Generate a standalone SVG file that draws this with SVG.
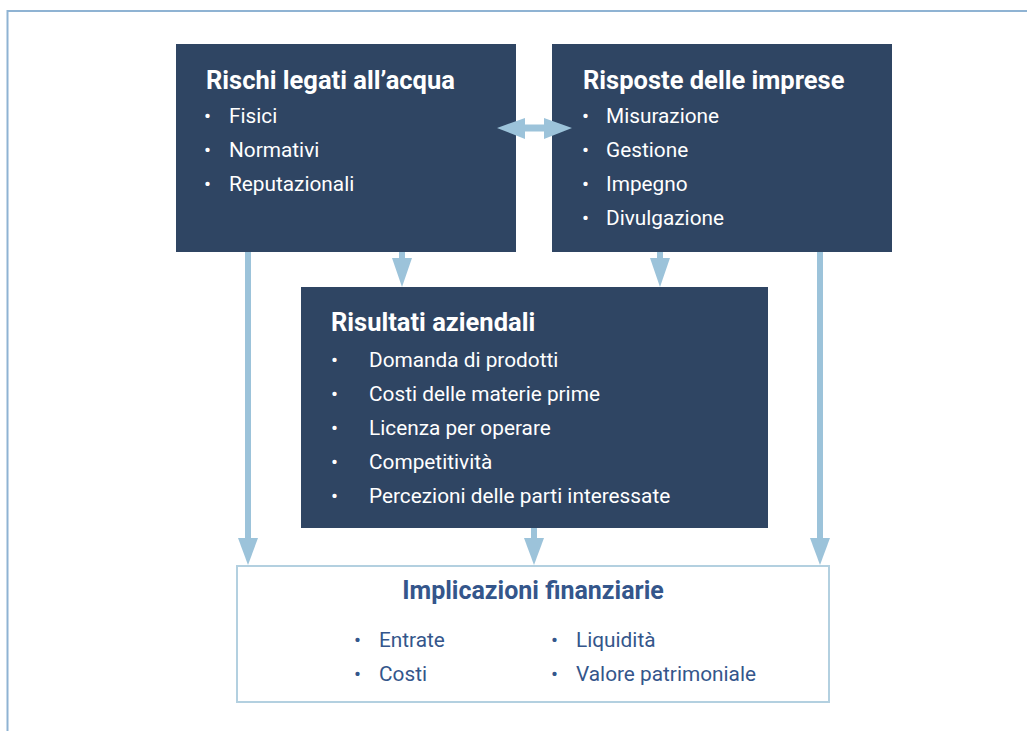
<svg xmlns="http://www.w3.org/2000/svg" width="1027" height="731" viewBox="0 0 1027 731">
<defs>
<style>
.dark{fill:#2f4563}
.title{font-family:Roboto,"Liberation Sans",sans-serif;font-weight:700;font-size:25.5px;fill:#ffffff}
.item{font-family:Roboto,"Liberation Sans",sans-serif;font-size:20.8px;fill:#ffffff}
.ftitle{font-family:Roboto,"Liberation Sans",sans-serif;font-weight:700;font-size:25px;fill:#34568b}
.fitem{font-family:Roboto,"Liberation Sans",sans-serif;font-size:20.8px;fill:#34568b}
.conn{stroke:#9cc3da;stroke-width:6;fill:none}
.head{fill:#9cc3da}
</style>
</defs>
<rect width="1027" height="731" fill="#ffffff"/>
<path d="M7.5 731 V11 H1027" fill="none" stroke="#8fb3d3" stroke-width="2"/>
<g id="rischi">
<rect class="dark" x="176" y="44" width="340" height="208"/>
<text class="title" x="206" y="89">Rischi legati all’acqua</text>
<text class="item" x="204" y="123">•</text><text class="item" x="229" y="123">Fisici</text>
<text class="item" x="204" y="157">•</text><text class="item" x="229" y="157">Normativi</text>
<text class="item" x="204" y="191">•</text><text class="item" x="229" y="191">Reputazionali</text>
</g>
<g id="risposte">
<rect class="dark" x="552" y="44" width="340" height="208"/>
<text class="title" x="583" y="89">Risposte delle imprese</text>
<text class="item" x="582" y="123">•</text><text class="item" x="606" y="123">Misurazione</text>
<text class="item" x="582" y="157">•</text><text class="item" x="606" y="157">Gestione</text>
<text class="item" x="582" y="191">•</text><text class="item" x="606" y="191">Impegno</text>
<text class="item" x="582" y="225">•</text><text class="item" x="606" y="225">Divulgazione</text>
</g>
<g id="risultati">
<rect class="dark" x="301" y="287" width="467" height="241"/>
<text class="title" x="331" y="331">Risultati aziendali</text>
<text class="item" x="331" y="367">•</text><text class="item" x="369" y="367">Domanda di prodotti</text>
<text class="item" x="331" y="401">•</text><text class="item" x="369" y="401">Costi delle materie prime</text>
<text class="item" x="331" y="435">•</text><text class="item" x="369" y="435">Licenza per operare</text>
<text class="item" x="331" y="469">•</text><text class="item" x="369" y="469">Competitività</text>
<text class="item" x="331" y="503">•</text><text class="item" x="369" y="503">Percezioni delle parti interessate</text>
</g>
<g id="implicazioni">
<rect x="237" y="566" width="592" height="136" fill="#ffffff" stroke="#b3d0e0" stroke-width="2"/>
<text class="ftitle" x="533" y="599" text-anchor="middle">Implicazioni finanziarie</text>
<text class="fitem" x="354" y="647">•</text><text class="fitem" x="379" y="647">Entrate</text>
<text class="fitem" x="354" y="681">•</text><text class="fitem" x="379" y="681">Costi</text>
<text class="fitem" x="551" y="647">•</text><text class="fitem" x="576" y="647">Liquidità</text>
<text class="fitem" x="551" y="681">•</text><text class="fitem" x="576" y="681">Valore patrimoniale</text>
</g>
<g id="connectors">
<line class="conn" x1="248" y1="252" x2="248" y2="540"/>
<polygon class="head" points="238,538 258,538 248,565"/>
<line class="conn" x1="820" y1="252" x2="820" y2="540"/>
<polygon class="head" points="810,538 830,538 820,565"/>
<line class="conn" x1="402" y1="252" x2="402" y2="260"/>
<polygon class="head" points="392,258 412,258 402,287"/>
<line class="conn" x1="660" y1="252" x2="660" y2="260"/>
<polygon class="head" points="650,258 670,258 660,287"/>
<line class="conn" x1="534" y1="528" x2="534" y2="540"/>
<polygon class="head" points="524,538 544,538 534,565"/>
<polygon class="head" points="497,128 525,118 525,124.5 544,124.5 544,118 572,128 544,139 544,131.5 525,131.5 525,139"/>
</g>
</svg>
